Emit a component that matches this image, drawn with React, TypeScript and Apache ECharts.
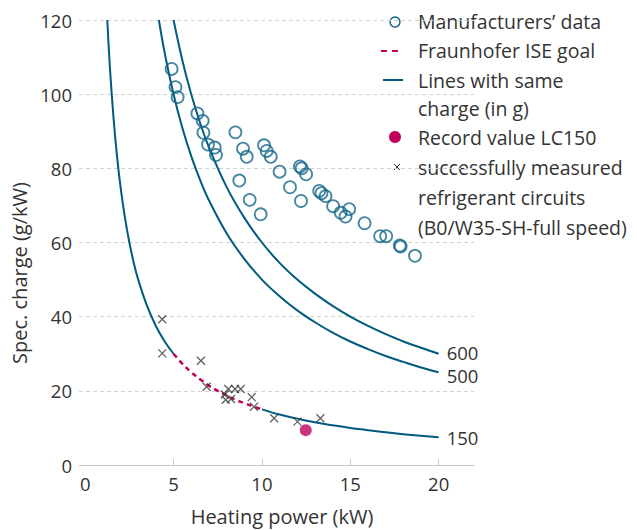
import React, { useEffect, useRef } from "react";
import * as echarts from "echarts";

const BLUE = "#005b7f";
const CIRCLE = "#16688a";
const RED = "#c0005a";
const TEXT = "#333333";
const FONT = "Open Sans";

// Manufacturers' data: [heating power kW, spec. charge g/kW]
const manufacturers: number[][] = [
  [4.89, 106.8], [5.11, 101.9], [5.23, 99.2], [6.35, 94.8], [6.65, 92.8],
  [6.69, 89.6], [6.95, 86.4], [7.33, 85.6], [7.4, 83.6], [8.5, 89.7],
  [8.93, 85.3], [9.14, 83.1], [8.72, 76.7], [9.31, 71.5], [9.93, 67.6],
  [10.12, 86.2], [10.27, 84.7], [10.5, 83.1], [11.0, 79.1], [11.59, 74.9],
  [12.15, 80.5], [12.25, 80.0], [12.5, 78.4], [12.21, 71.2], [13.24, 73.9],
  [13.37, 73.3], [13.6, 72.5], [14.03, 69.8], [14.46, 68.0], [14.73, 67.0],
  [14.94, 69.0], [15.81, 65.2], [16.69, 61.7], [17.03, 61.7], [17.8, 59.2],
  [17.85, 58.9], [18.66, 56.4],
];

// Successfully measured refrigerant circuits
const measured: number[][] = [
  [4.36, 39.3], [4.36, 30.1], [6.55, 28.1], [6.87, 21.1], [7.9, 19.0],
  [7.95, 17.6], [8.25, 17.8], [8.1, 20.5], [8.48, 20.5], [8.8, 20.5],
  [9.42, 18.3], [9.55, 15.7], [10.69, 12.6], [12.01, 11.7], [13.31, 12.6],
];

// Record value LC150
const record: number[][] = [[12.48, 9.4]];

// Lines with same charge (in g)
const charge600: number[][] = [
  [5, 120], [5.5, 109.1], [6, 100], [6.5, 92.3], [7, 85.7], [8, 75], [9, 66.7],
  [10, 60], [11, 54.5], [12, 50], [13, 46.2], [14, 42.9], [15, 40], [16, 37.5],
  [17, 35.3], [18, 33.3], [19, 31.6], [20, 30],
];
const charge500: number[][] = [
  [4.17, 120], [4.5, 111.1], [5, 100], [5.5, 90.9], [6, 83.3], [6.5, 76.9],
  [7, 71.4], [8, 62.5], [9, 55.6], [10, 50], [11, 45.5], [12, 41.7], [13, 38.5],
  [14, 35.7], [15, 33.3], [16, 31.25], [17, 29.4], [18, 27.8], [19, 26.3], [20, 25],
];
const charge150Left: number[][] = [
  [1.25, 120], [1.4, 107.1], [1.6, 93.8], [1.8, 83.3], [2, 75], [2.25, 66.7],
  [2.5, 60], [2.75, 54.5], [3, 50], [3.5, 42.9], [4, 37.5], [4.5, 33.3], [5, 30],
];
const charge150Right: number[][] = [
  [10, 15], [11, 13.6], [12, 12.5], [13, 11.5], [14, 10.7], [15, 10],
  [16, 9.4], [17, 8.8], [18, 8.3], [19, 7.9], [20, 7.5],
];

// Fraunhofer ISE goal
const goal: number[][] = [
  [5, 30], [5.5, 27.3], [6, 25], [6.5, 23.1], [7, 21.4], [7.5, 20], [8, 18.75],
  [8.5, 17.6], [9, 16.7], [9.5, 15.8], [10, 15],
];

const xLabelValues = [0, 5, 10, 15, 20];
const xTickValues = [5, 10, 15, 20];

const legendLines = [
  { text: "Manufacturers’ data", y: 21 },
  { text: "Fraunhofer ISE goal", y: 50 },
  { text: "Lines with same", y: 80 },
  { text: "charge (in g)", y: 108 },
  { text: "Record value LC150", y: 137 },
  { text: "successfully measured", y: 167 },
  { text: "refrigerant circuits", y: 197 },
  { text: "(B0/W35-SH-full speed)", y: 227 },
];

export default function App() {
  const ref = useRef<HTMLDivElement>(null);

  useEffect(() => {
    document.body.style.margin = "0";
    if (!ref.current) return;
    const chart = echarts.init(ref.current, undefined, { renderer: "svg" });

    const curve = (name: string, data: number[][], label?: string, offset?: number[]) => ({
      type: "line",
      name,
      data,
      smooth: 0.4,
      symbol: "none",
      silent: true,
      lineStyle: { color: BLUE, width: 2 },
      z: 2,
      endLabel: label
        ? {
            show: true,
            formatter: label,
            distance: 8,
            offset: offset || [0, 0],
            color: TEXT,
            fontSize: 18.5,
            lineHeight: 18,
            fontFamily: FONT,
          }
        : { show: false },
    });

    const legendText = { fill: TEXT, fontSize: 19.5, fontFamily: FONT };
    const titleText = { fill: TEXT, fontSize: 20, fontFamily: FONT };

    const graphic: any[] = [
      {
        type: "text",
        x: 19,
        y: 273,
        rotation: Math.PI / 2,
        style: {
          ...titleText,
          text: "Spec. charge (g/kW)",
          align: "center",
          verticalAlign: "middle",
        },
      },
      {
        type: "text",
        x: 282,
        y: 516,
        style: {
          ...titleText,
          text: "Heating power (kW)",
          align: "center",
          verticalAlign: "middle",
        },
      },
      // legend markers
      {
        type: "circle",
        shape: { cx: 395, cy: 22, r: 5 },
        style: { fill: "none", stroke: CIRCLE, lineWidth: 1.5 },
      },
      {
        type: "line",
        shape: { x1: 381, y1: 51, x2: 403, y2: 51 },
        style: { stroke: RED, lineWidth: 2, lineDash: [6, 5] },
      },
      {
        type: "line",
        shape: { x1: 383, y1: 80, x2: 403, y2: 80 },
        style: { stroke: BLUE, lineWidth: 2 },
      },
      {
        type: "circle",
        shape: { cx: 395, cy: 137, r: 6 },
        style: { fill: RED },
      },
      {
        type: "line",
        shape: { x1: 394, y1: 164, x2: 400, y2: 170 },
        style: { stroke: TEXT, lineWidth: 1 },
      },
      {
        type: "line",
        shape: { x1: 400, y1: 164, x2: 394, y2: 170 },
        style: { stroke: TEXT, lineWidth: 1 },
      },
      ...legendLines.map((l) => ({
        type: "text",
        x: 418,
        y: l.y,
        style: { ...legendText, text: l.text, align: "left", verticalAlign: "middle" },
      })),
    ];

    chart.setOption({
      animation: false,
      backgroundColor: "#ffffff",
      grid: { left: 79, right: 163, top: 20, bottom: 65 },
      xAxis: {
        type: "value",
        min: -0.35,
        max: 22,
        axisLine: { show: true, lineStyle: { color: "#c8c8c8", width: 1 } },
        axisTick: {
          show: true,
          inside: true,
          length: 6,
          customValues: xTickValues,
          lineStyle: { color: "#c8c8c8" },
        },
        axisLabel: {
          customValues: xLabelValues,
          color: TEXT,
          fontSize: 18.5,
          fontFamily: FONT,
          margin: 9,
        },
        splitLine: { show: false },
      },
      yAxis: {
        type: "value",
        min: 0,
        max: 120,
        interval: 20,
        axisLine: { show: false },
        axisTick: { show: false },
        axisLabel: { color: TEXT, fontSize: 18.5, fontFamily: FONT, margin: 7 },
        splitLine: {
          show: true,
          lineStyle: { color: "#d2d2d2", type: [4, 3], width: 1 },
        },
      },
      series: [
        curve("600", charge600, "600", [0, -1]),
        curve("500", charge500, "500", [0, 3]),
        curve("150", charge150Left),
        curve("150b", charge150Right, "150", [0, 0]),
        {
          type: "line",
          name: "Fraunhofer ISE goal",
          data: goal,
          smooth: 0.4,
          symbol: "none",
          silent: true,
          lineStyle: { color: RED, width: 2.5, type: [5, 4] },
          z: 3,
        },
        {
          type: "scatter",
          name: "Manufacturers’ data",
          data: manufacturers,
          symbol: "circle",
          symbolSize: 12,
          itemStyle: { color: "rgba(255,255,255,0)", borderColor: CIRCLE, borderWidth: 1.8 },
          z: 4,
        },
        {
          type: "scatter",
          name: "successfully measured refrigerant circuits",
          data: measured,
          symbol: "path://M0,0L10,10M10,0L0,10",
          symbolSize: 8,
          itemStyle: { color: "rgba(0,0,0,0)", borderColor: TEXT, borderWidth: 1.2 },
          z: 5,
        },
        {
          type: "scatter",
          name: "Record value LC150",
          data: record,
          symbol: "circle",
          symbolSize: 12,
          itemStyle: { color: RED },
          z: 6,
        },
      ],
      graphic,
    });

    return () => chart.dispose();
  }, []);

  return <div ref={ref} style={{ width: 637, height: 530 }} />;
}
